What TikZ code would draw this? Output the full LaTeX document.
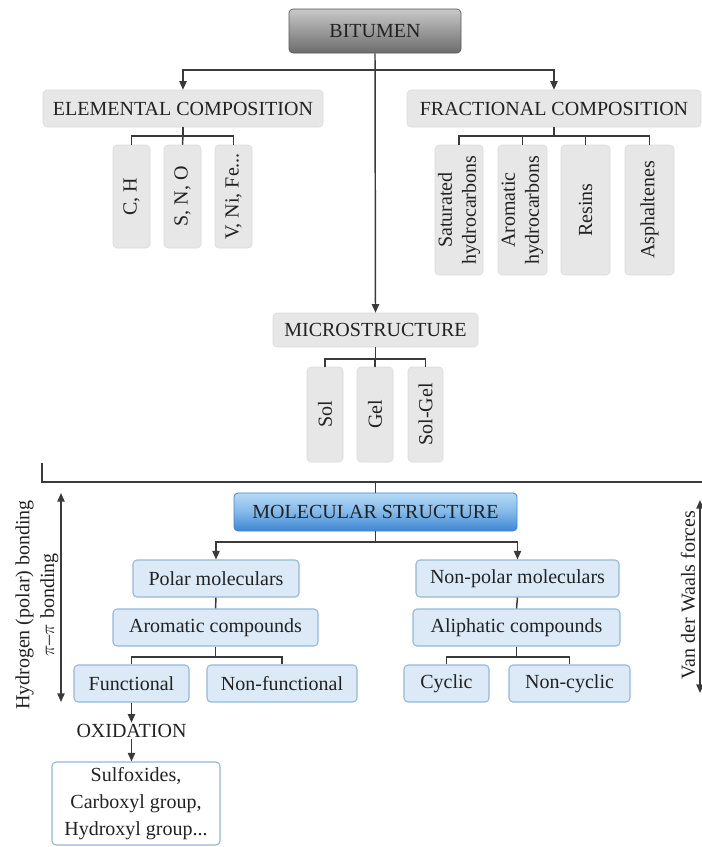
\documentclass[tikz,border=0pt]{standalone}
\usepackage{fontspec}
\setmainfont{Liberation Serif}
\usetikzlibrary{arrows.meta}
\definecolor{txt}{HTML}{222222}
\definecolor{ln}{HTML}{3A3A3A}
\definecolor{boxgray}{HTML}{E7E7E7}
\definecolor{boxgrayd}{HTML}{D9D9D9}
\definecolor{lblue}{HTML}{DCEAF7}
\definecolor{lblued}{HTML}{93B8D8}
\definecolor{bittop}{HTML}{C8C8C8}
\definecolor{bitbot}{HTML}{6C6C6C}
\definecolor{moltop}{HTML}{B8DAF6}
\definecolor{molmid}{HTML}{82B8EA}
\definecolor{molbot}{HTML}{3E86D2}
\begin{document}
\begin{tikzpicture}[x=0.75pt,y=-0.75pt,
  font=\fontsize{15}{18}\selectfont, text=txt,
  base/.style={rounded corners=3pt, inner sep=0pt, align=center},
  graybox/.style={base, fill=boxgray, draw=boxgrayd, line width=0.4pt},
  vbox/.style={graybox, rotate=90},
  bluebox/.style={base, fill=lblue, draw=lblued, line width=0.8pt},
  con/.style={draw=ln, line width=1.1pt},
  arr/.style={con, -{Triangle[length=6.5pt,width=5.5pt]}},
  darr/.style={con, {Triangle[length=6.5pt,width=5.5pt]}-{Triangle[length=6.5pt,width=5.5pt]}},
]
\useasboundingbox (0,0) rectangle (702,847);

% top level
\node[base, top color=bittop, bottom color=bitbot, draw=bitbot!80!black, line width=0.5pt,
  minimum width={172*0.75pt}, minimum height={44*0.75pt}] (bit) at (375,31) {BITUMEN};
\node[graybox, minimum width={280*0.75pt}, minimum height={37*0.75pt}] (elem) at (183,108.5) {ELEMENTAL COMPOSITION};
\node[graybox, minimum width={294*0.75pt}, minimum height={37*0.75pt}] (frac) at (554,108.5) {FRACTIONAL COMPOSITION};

% elemental children
\node[vbox, minimum width={103*0.75pt}, minimum height={37*0.75pt}] (ch) at (131.5,196.5) {C, H};
\node[vbox, minimum width={103*0.75pt}, minimum height={37*0.75pt}] (sno) at (182.5,196.5) {S, N, O};
\node[vbox, minimum width={103*0.75pt}, minimum height={37*0.75pt}] (vni) at (233.5,196.5) {V, Ni, Fe...};

% fractional children
\node[vbox, minimum width={130*0.75pt}, minimum height={48*0.75pt}] (sat) at (459,210) {Saturated\\hydrocarbons};
\node[vbox, minimum width={130*0.75pt}, minimum height={49*0.75pt}] (aro) at (522.5,210) {Aromatic\\hydrocarbons};
\node[vbox, minimum width={130*0.75pt}, minimum height={49*0.75pt}] (res) at (585.5,210) {Resins};
\node[vbox, minimum width={130*0.75pt}, minimum height={49*0.75pt}] (asp) at (649.5,210) {Asphaltenes};

% microstructure
\node[graybox, minimum width={205*0.75pt}, minimum height={34*0.75pt}] (micro) at (375.5,330) {MICROSTRUCTURE};
\node[vbox, minimum width={95*0.75pt}, minimum height={36*0.75pt}] (sol) at (325,414.5) {Sol};
\node[vbox, minimum width={95*0.75pt}, minimum height={36*0.75pt}] (gel) at (375,414.5) {Gel};
\node[vbox, minimum width={95*0.75pt}, minimum height={35*0.75pt}] (solgel) at (425.5,414.5) {Sol-Gel};

% molecular structure
\node[base, top color=moltop, bottom color=molbot, middle color=molmid, draw=molbot, line width=0.6pt,
  minimum width={283*0.75pt}, minimum height={38*0.75pt}] (mol) at (375.5,512) {MOLECULAR STRUCTURE};
\node[bluebox, minimum width={166*0.75pt}, minimum height={37*0.75pt}] (polar) at (216,578.5) {Polar moleculars};
\node[bluebox, minimum width={203*0.75pt}, minimum height={37*0.75pt}] (nonpolar) at (517.5,578.5) {Non-polar moleculars};
\node[bluebox, minimum width={205*0.75pt}, minimum height={37*0.75pt}] (arom) at (215.5,627.5) {Aromatic compounds};
\node[bluebox, minimum width={207*0.75pt}, minimum height={37*0.75pt}] (aliph) at (516.5,627.5) {Aliphatic compounds};
\node[bluebox, minimum width={115*0.75pt}, minimum height={37*0.75pt}] (func) at (131.5,683.5) {Functional};
\node[bluebox, minimum width={150*0.75pt}, minimum height={37*0.75pt}] (nonfunc) at (282,683.5) {Non-functional};
\node[bluebox, minimum width={85*0.75pt}, minimum height={37*0.75pt}] (cyc) at (446.5,683.5) {Cyclic};
\node[bluebox, minimum width={121*0.75pt}, minimum height={37*0.75pt}] (noncyc) at (569.5,683.5) {Non-cyclic};
\node[inner sep=1pt] (oxid) at (131.5,731) {OXIDATION};
\node[base, fill=white, draw=lblued, line width=0.8pt, font=\fontsize{15}{20}\selectfont,
  minimum width={168*0.75pt}, minimum height={83*0.75pt}] (sulf) at (136,803.5) {Sulfoxides,\\Carboxyl group,\\Hydroxyl group...};

% side labels
\node[rotate=90, align=center, font=\fontsize{15}{18.5}\selectfont] (hbond) at (37,605) {Hydrogen (polar) bonding\\$\pi$--$\pi$ bonding};
\node[rotate=90] (vdw) at (688,595) {Van der Waals forces};

% junction coordinates
\coordinate (jtop) at (375,70);
\coordinate (je) at (183,136);
\coordinate (jf) at (554,136);
\coordinate (jm) at (375.5,359);
\coordinate (bl) at (42,463);
\coordinate (br) at (702,482);
\coordinate (jmol) at (375.5,542);
\coordinate (ja) at (215.5,657);
\coordinate (jl) at (516.5,657);
\coordinate (la1) at (61,493);
\coordinate (la2) at (61,702);
\coordinate (ra1) at (700,500);
\coordinate (ra2) at (700,693);

% connectors
\draw[arr] (bit.south) -- (micro.north);
\draw[arr] (jtop) -| (elem.north);
\draw[arr] (jtop) -| (frac.north);

\draw[con] (elem.south) -- (je);
\draw[con] (ch.east) |- (je) -| (vni.east);
\draw[con] (sno.east) -- (je);

\draw[con] (frac.south) -- (jf);
\draw[con] (sat.east) |- (jf) -| (asp.east);
\draw[con] (aro.east) -- (aro.east |- jf);
\draw[con] (res.east) -- (res.east |- jf);

\draw[con] (micro.south) -- (jm);
\draw[con] (sol.east) |- (jm) -| (solgel.east);
\draw[con] (gel.east) -- (gel.east |- jm);

\draw[con] (bl) |- (br);
\draw[con] (mol.north) -- (mol.north |- br);

\draw[con] (mol.south) -- (jmol);
\draw[arr] (jmol) -| (polar.north);
\draw[arr] (jmol) -| (nonpolar.north);
\draw[con] (polar.south) -- (arom.north);
\draw[con] (nonpolar.south) -- (aliph.north);

\draw[con] (arom.south) -- (ja);
\draw[con] (func.north) |- (ja) -| (nonfunc.north);
\draw[con] (aliph.south) -- (jl);
\draw[con] (cyc.north) |- (jl) -| (noncyc.north);

\draw[arr] (func.south) -- (oxid.north);
\draw[arr] (oxid.south) -- (oxid.south |- sulf.north);

\draw[darr] (la1) -- (la2);
\draw[darr] (ra1) -- (ra2);
\end{tikzpicture}
\end{document}
